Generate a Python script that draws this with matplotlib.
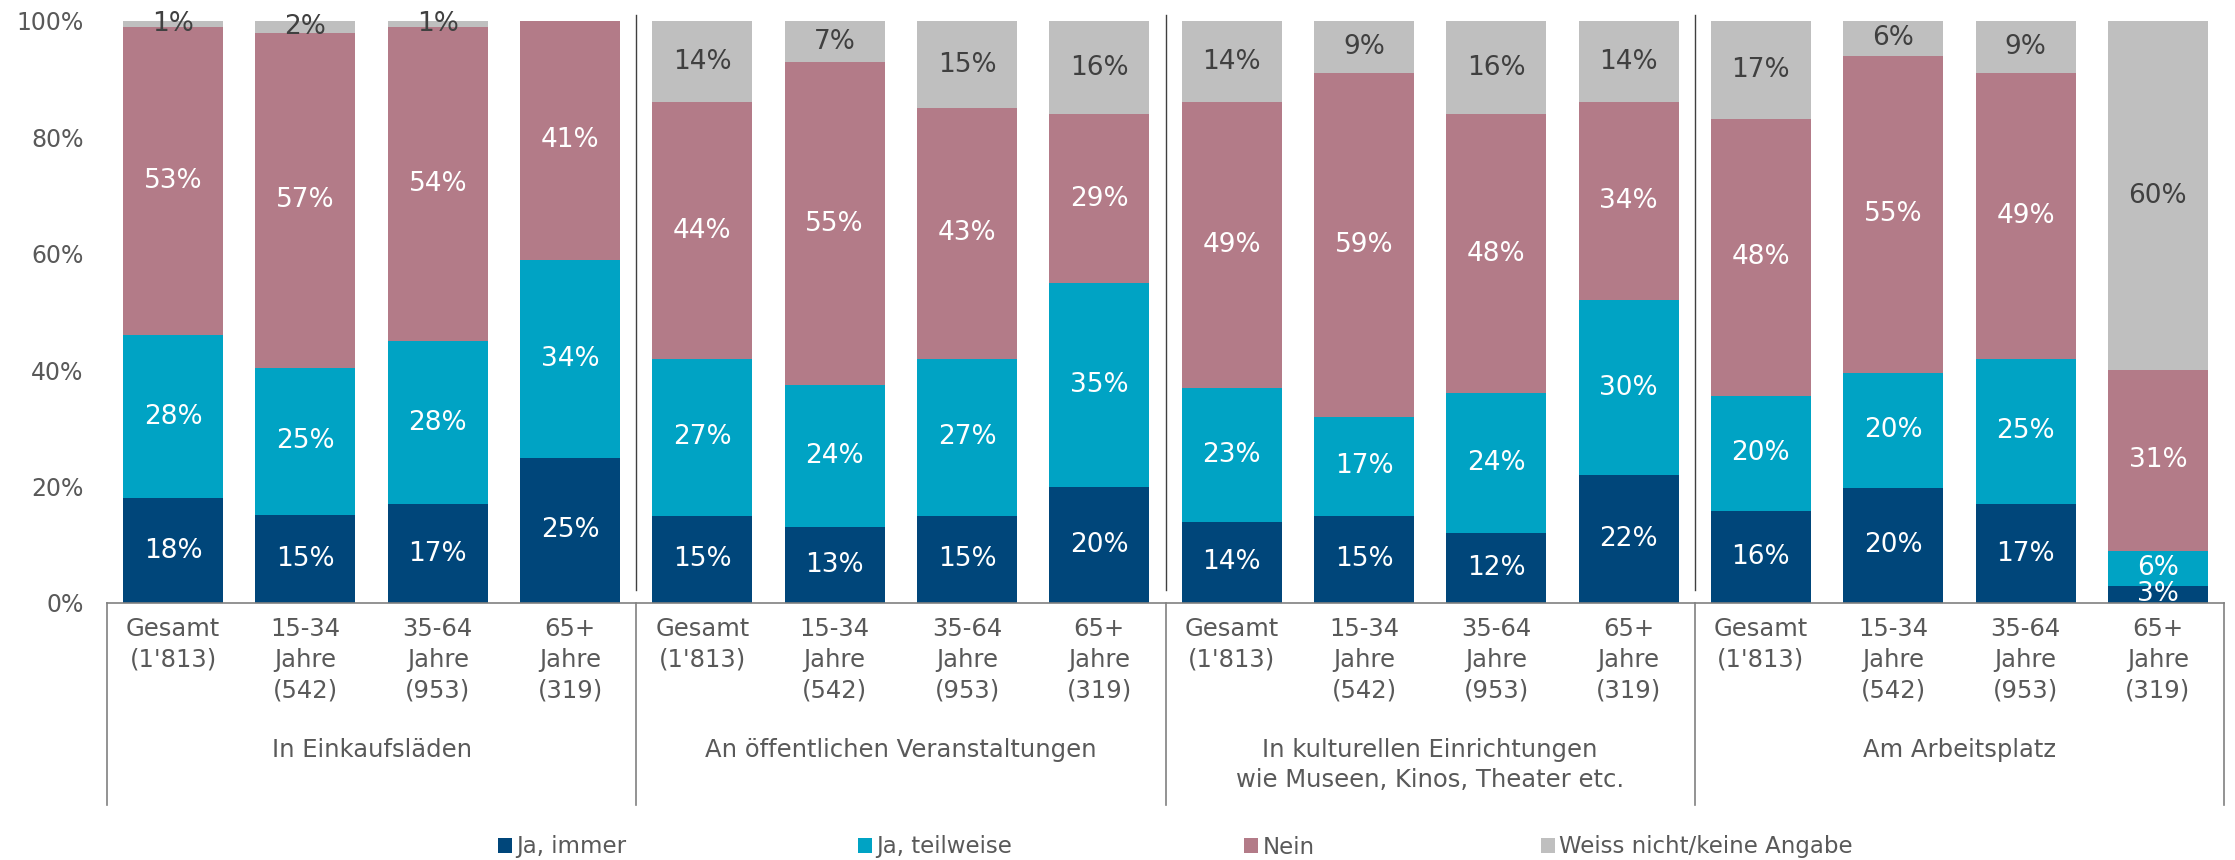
import numpy as np
import matplotlib
matplotlib.use("Agg")
import matplotlib.pyplot as plt

plt.rcParams['font.family'] = ['DejaVu Sans']

# Data (percent)
bar_labels = ["Gesamt\n(1'813)", "15-34\nJahre\n(542)", "35-64\nJahre\n(953)", "65+\nJahre\n(319)"] * 4
groups = ["In Einkaufsläden", "An öffentlichen Veranstaltungen",
          "In kulturellen Einrichtungen\nwie Museen, Kinos, Theater etc.", "Am Arbeitsplatz"]
series = ["Ja, immer", "Ja, teilweise", "Nein", "Weiss nicht/keine Angabe"]

ja_immer     = [18, 15, 17, 25,  15, 13, 15, 20,  14, 15, 12, 22,  16, 20, 17, 3]
ja_teilweise = [28, 25, 28, 34,  27, 24, 27, 35,  23, 17, 24, 30,  20, 20, 25, 6]
nein         = [53, 57, 54, 41,  44, 55, 43, 29,  49, 59, 48, 34,  48, 55, 49, 31]
weiss_nicht  = [ 1,  2,  1,  0,  14,  7, 15, 16,  14,  9, 16, 14,  17,  6,  9, 60]

colors = ['#00467a', '#00a3c4', '#b37b88', '#bfbfbf']
label_colors = ['white', 'white', 'white', '#404040']
txt = '#595959'

W, H = 2235, 860
fig = plt.figure(figsize=(W / 100, H / 100), dpi=100)
ax = fig.add_axes([107 / W, 1 - 603 / H, (2224 - 107) / W, (603 - 21) / H])

vals = np.array([ja_immer, ja_teilweise, nein, weiss_nicht], dtype=float)
shares = vals / vals.sum(axis=0)   # bars are drawn to 100%
x = np.arange(len(ja_immer))
bottom = np.zeros(len(x))
handles = []
for k in range(4):
    b = ax.bar(x, shares[k], 0.756, bottom=bottom, color=colors[k], label=series[k])
    handles.append(b)
    for i in range(len(x)):
        if vals[k, i] > 0:
            ax.text(x[i], bottom[i] + shares[k, i] / 2, '%d%%' % vals[k, i],
                    ha='center', va='center', fontsize=19, color=label_colors[k])
    bottom += shares[k]

ax.set_xlim(-0.5, 15.5)
ax.set_ylim(0, 1)
ax.set_yticks(np.linspace(0, 1, 6))
ax.set_yticklabels(['%d%%' % v for v in range(0, 101, 20)], fontsize=17, color=txt)
ax.set_xticks(x)
ax.set_xticklabels(bar_labels, fontsize=17.5, color=txt, linespacing=1.35)
ax.tick_params(length=0)
ax.tick_params(axis='y', pad=17)
ax.tick_params(axis='x', pad=10)
for s in ['top', 'right', 'left']:
    ax.spines[s].set_visible(False)
ax.spines['bottom'].set_color('#808080')
ax.spines['bottom'].set_linewidth(1.2)

trans = ax.get_xaxis_transform()
# group separators inside the plot
for xs in [3.5, 7.5, 11.5]:
    ax.plot([xs, xs], [0.022, 1.01], color='#404040', lw=1, transform=trans, clip_on=False)
# category dividers below the axis
for xs in [-0.5, 3.5, 7.5, 11.5, 15.5]:
    ax.plot([xs, xs], [0, -(805 - 603) / 582], color='#808080', lw=1.2,
            transform=trans, clip_on=False)
# group labels
for g, name in enumerate(groups):
    ax.text(g * 4 + 1.5, -(738 - 603) / 582, name, transform=trans, ha='center', va='top',
            fontsize=17.5, color=txt, linespacing=1.3)

# legend, one entry at a time
leg_x = [498, 858, 1244, 1541]
for k in range(4):
    fig.legend([handles[k]], [series[k]], loc='center left',
               bbox_to_anchor=(leg_x[k] / W, 1 - 847 / H), frameon=False,
               fontsize=16.5, handlelength=0.6, handleheight=0.6, handletextpad=0.2,
               borderpad=0, borderaxespad=0, labelcolor=txt)

fig.savefig('out.png', dpi=100)
